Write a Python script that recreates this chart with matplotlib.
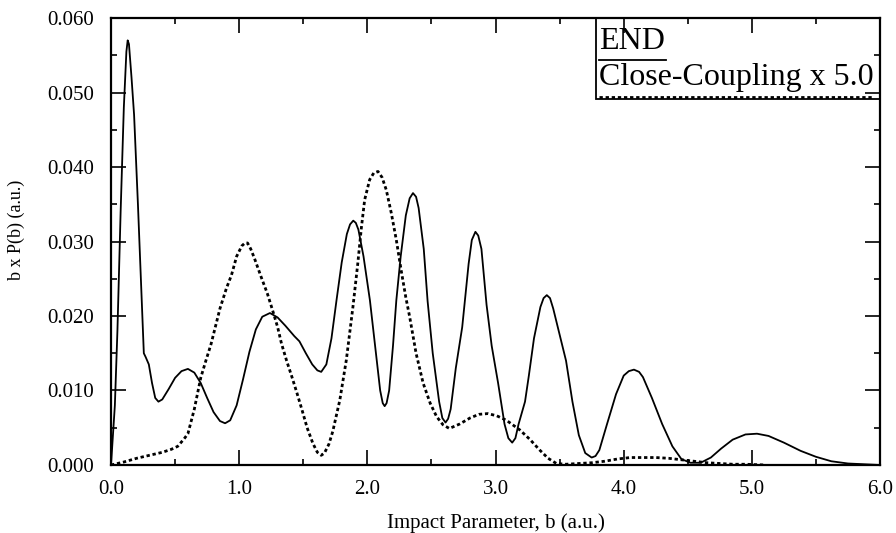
import numpy as np
import matplotlib
matplotlib.use('Agg')
import matplotlib.pyplot as plt
from matplotlib.ticker import MultipleLocator, FormatStrFormatter

plt.rcParams['font.family'] = ['Liberation Serif', 'DejaVu Serif']

# END result, b x P(b)
b_end = [0.00, 0.03, 0.05, 0.075, 0.10, 0.12, 0.13, 0.14, 0.16, 0.18, 0.21, 0.24,
         0.256, 0.27, 0.295, 0.32, 0.345, 0.37, 0.40, 0.45, 0.50, 0.55, 0.60, 0.65,
         0.70, 0.75, 0.80, 0.85, 0.89, 0.93, 0.98, 1.03, 1.08, 1.13, 1.18, 1.24,
         1.30, 1.36, 1.43, 1.47, 1.52, 1.57, 1.61, 1.64, 1.68, 1.72, 1.76, 1.80,
         1.84, 1.865, 1.89, 1.91, 1.93, 1.97, 2.02, 2.06, 2.10, 2.12, 2.135, 2.15,
         2.17, 2.20, 2.226, 2.26, 2.30, 2.33, 2.356, 2.38, 2.40, 2.44, 2.47, 2.51,
         2.56, 2.585, 2.61, 2.63, 2.65, 2.69, 2.74, 2.79, 2.815, 2.843, 2.865, 2.89,
         2.93, 2.97, 3.02, 3.07, 3.10, 3.13, 3.155, 3.18, 3.23, 3.26, 3.30, 3.35,
         3.375, 3.40, 3.425, 3.45, 3.50, 3.55, 3.60, 3.65, 3.70, 3.75, 3.78, 3.81,
         3.87, 3.94, 4.00, 4.04, 4.08, 4.12, 4.15, 4.22, 4.30, 4.38, 4.45, 4.52,
         4.60, 4.68, 4.76, 4.85, 4.95, 5.04, 5.13, 5.25, 5.38, 5.50, 5.62, 5.75,
         5.87, 6.00]
p_end = [0.0000, 0.0080, 0.0180, 0.0340, 0.0480, 0.0555, 0.0570, 0.0565, 0.0520, 0.0470,
         0.0350, 0.0220, 0.0150, 0.0145, 0.0135, 0.0110, 0.0090, 0.0085, 0.0088, 0.0102,
         0.0117, 0.0126, 0.0129, 0.0124, 0.0110, 0.0090, 0.0071, 0.0059, 0.0056, 0.0060,
         0.0080, 0.0115, 0.0152, 0.0182, 0.0199, 0.0204, 0.0198, 0.0187, 0.0173, 0.0166,
         0.0150, 0.0135, 0.0127, 0.0125, 0.0135, 0.0170, 0.0222, 0.0272, 0.0310, 0.0323,
         0.0328, 0.0325, 0.0316, 0.0280, 0.0221, 0.0160, 0.0100, 0.0083, 0.0079, 0.0083,
         0.0100, 0.0160, 0.0221, 0.0280, 0.0335, 0.0358, 0.0365, 0.0360, 0.0345, 0.0290,
         0.0220, 0.0150, 0.0085, 0.0063, 0.0057, 0.0062, 0.0075, 0.0130, 0.0185, 0.0270,
         0.0302, 0.0313, 0.0308, 0.0290, 0.0215, 0.0160, 0.0110, 0.0055, 0.0036, 0.0030,
         0.0036, 0.0055, 0.0085, 0.0120, 0.0170, 0.0212, 0.0224, 0.0228, 0.0224, 0.0210,
         0.0175, 0.0140, 0.0085, 0.0040, 0.0016, 0.0010, 0.0012, 0.0020, 0.0055, 0.0095,
         0.0120, 0.0126, 0.0128, 0.0125, 0.0118, 0.0090, 0.0055, 0.0025, 0.0008, 0.0003,
         0.0003, 0.0010, 0.0022, 0.0034, 0.0041, 0.0042, 0.0039, 0.0030, 0.0019, 0.0011,
         0.0005, 0.0002, 0.0001, 0.0000]

# Close-Coupling result (already scaled x 5.0)
b_cc = [0.00, 0.10, 0.20, 0.30, 0.40, 0.47, 0.52, 0.57, 0.60, 0.65, 0.70, 0.74,
        0.78, 0.85, 0.90, 0.94, 0.98, 1.02, 1.045, 1.065, 1.09, 1.12, 1.17, 1.22,
        1.26, 1.30, 1.33, 1.37, 1.41, 1.45, 1.49, 1.53, 1.575, 1.61, 1.64, 1.665,
        1.70, 1.73, 1.785, 1.836, 1.888, 1.925, 1.953, 1.979, 2.018, 2.05, 2.083, 2.115,
        2.148, 2.187, 2.226, 2.265, 2.30, 2.33, 2.38, 2.435, 2.49, 2.54, 2.59, 2.64,
        2.72, 2.80, 2.87, 2.94, 3.01, 3.085, 3.19, 3.27, 3.345, 3.41, 3.475, 3.55,
        3.65, 3.75, 3.85, 3.95, 4.05, 4.15, 4.25, 4.35, 4.45, 4.55, 4.65, 4.75,
        4.85, 4.95, 5.10]
p_cc = [0.0000, 0.0004, 0.0009, 0.0013, 0.0017, 0.0021, 0.0025, 0.0035, 0.0042, 0.0075,
        0.0117, 0.0140, 0.0162, 0.0210, 0.0237, 0.0255, 0.0280, 0.0294, 0.0298, 0.0298,
        0.0290, 0.0277, 0.0253, 0.0230, 0.0208, 0.0185, 0.0163, 0.0140, 0.0119, 0.0097,
        0.0074, 0.0050, 0.0029, 0.0017, 0.0013, 0.0016, 0.0028, 0.0045, 0.0087, 0.0141,
        0.0213, 0.0270, 0.0318, 0.0356, 0.0383, 0.0392, 0.0394, 0.0386, 0.0369, 0.0338,
        0.0302, 0.0260, 0.0225, 0.0199, 0.0150, 0.0110, 0.0083, 0.0065, 0.0054, 0.0049,
        0.0055, 0.0063, 0.0068, 0.0069, 0.0066, 0.0060, 0.0047, 0.0034, 0.0020, 0.0009,
        0.0002, 0.0001, 0.0002, 0.0003, 0.0005, 0.0008, 0.0010, 0.0010, 0.0010, 0.0009,
        0.0007, 0.0005, 0.0003, 0.0002, 0.0001, 0.0001, 0.0000]

x_ticks = [0.0, 1.0, 2.0, 3.0, 4.0, 5.0, 6.0]
y_ticks = [0.000, 0.010, 0.020, 0.030, 0.040, 0.050, 0.060]

DOTS = (0, (1.2, 1.0))

fig = plt.figure(figsize=(8.96, 5.33), dpi=100)
ax = fig.add_axes([0.1239, 0.1276, 0.8583, 0.8386])

ax.plot(b_end, p_end, color='k', lw=1.3)
ax.plot(b_cc, p_cc, color='k', lw=2.0, linestyle=DOTS)

ax.set_xlim(0, 6)
ax.set_ylim(0, 0.060)
ax.set_xticks(x_ticks)
ax.set_yticks(y_ticks)
ax.xaxis.set_minor_locator(MultipleLocator(0.5))
ax.yaxis.set_minor_locator(MultipleLocator(0.005))
ax.xaxis.set_major_formatter(FormatStrFormatter('%.1f'))
ax.yaxis.set_major_formatter(FormatStrFormatter('%.3f'))
ax.tick_params(which='both', direction='in', top=True, right=True, width=1.2,
               labelsize=15, colors='k')
ax.tick_params(which='major', length=11)
ax.tick_params(axis='x', which='major', pad=11)
ax.tick_params(axis='y', which='major', pad=12)
ax.tick_params(which='minor', length=4.5)
for s in ax.spines.values():
    s.set_linewidth(1.6)

ax.set_xlabel('Impact Parameter, b (a.u.)', fontsize=15)
ax.xaxis.set_label_coords(0.5, -0.108)
ax.set_ylabel('b x P(b) (a.u.)', fontsize=13)
ax.yaxis.set_label_coords(-0.112, 0.526)

# legend box in the upper right corner, text over line sample
ax.add_patch(plt.Rectangle((0.631, 0.819), 0.369, 0.181, transform=ax.transAxes,
                           fill=False, ec='k', lw=1.3, zorder=5))
ax.text(0.6346, 0.931, 'END', transform=ax.transAxes, fontsize=23, va='baseline')
ax.plot([0.6346, 0.7217], [0.906, 0.906], transform=ax.transAxes, color='k', lw=1.3)
ax.text(0.6346, 0.850, 'Close-Coupling x 5.0', transform=ax.transAxes, fontsize=23,
        va='baseline')
ax.plot([0.6346, 0.9896], [0.823, 0.823], transform=ax.transAxes, color='k', lw=2.0,
        linestyle=DOTS)

fig.savefig('out.png', dpi=100)
